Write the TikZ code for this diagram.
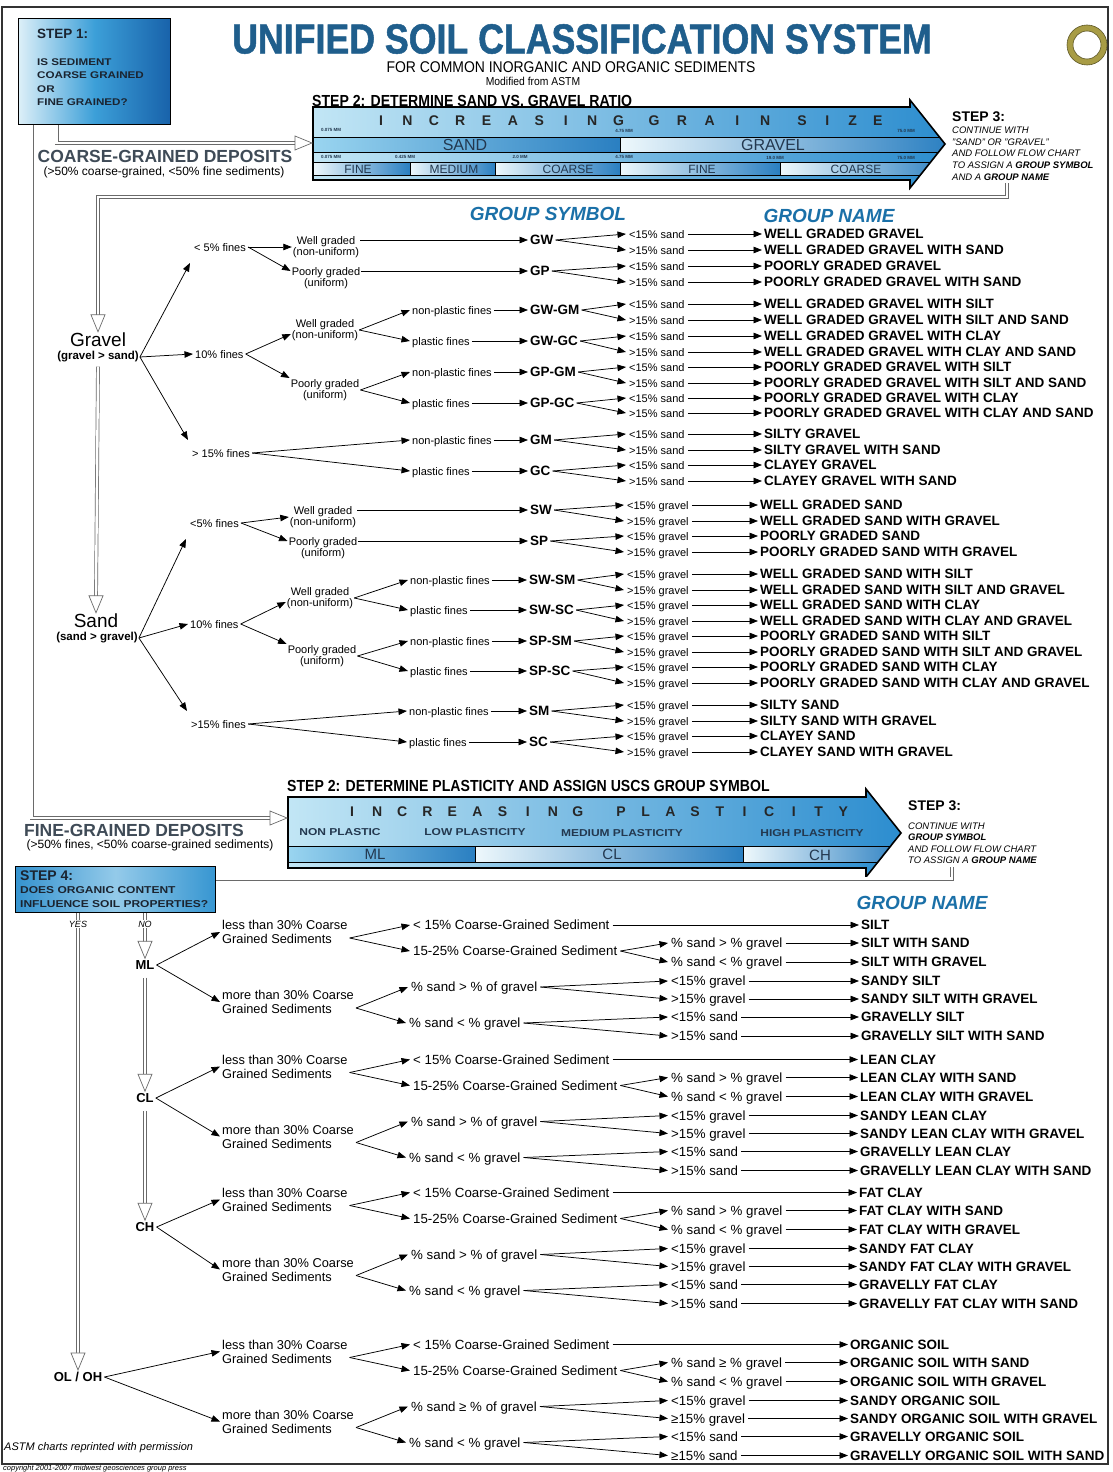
\documentclass[tikz,border=0pt]{standalone}
\usepackage{fontspec}
\setmainfont{Liberation Sans}
\newfontface\titlefont[FakeStretch=0.85,FakeBold=1.2]{Liberation Sans Bold}
\newfontface\condbold[FakeStretch=0.88]{Liberation Sans Bold}
\newfontface\condreg[FakeStretch=0.9]{Liberation Sans}
\newfontface\widebold[FakeStretch=1.2]{Liberation Sans Bold}
\newfontface\bolditalic{Liberation Sans Bold Italic}
\usetikzlibrary{arrows.meta,calc}
\definecolor{titleblue}{HTML}{1F5E8C}
\definecolor{hdrblue}{HTML}{1A70A8}
\definecolor{depcol}{HTML}{3F4B57}
\definecolor{barL}{HTML}{C2E6F5}
\definecolor{barR}{HTML}{2C8DCF}
\definecolor{cellLt}{HTML}{EEF8FC}
\definecolor{cellMid}{HTML}{9AD5F0}
\definecolor{cellDk}{HTML}{2A7FC1}
\definecolor{boxdark}{HTML}{1862AA}
\definecolor{boxmid}{HTML}{3C9FD8}
\definecolor{boxlight}{HTML}{DCEFF8}
\definecolor{ringcol}{HTML}{A89C45}
\definecolor{dblcol}{HTML}{6A6A6A}
\definecolor{celltext}{HTML}{23384F}
\definecolor{boxtext}{HTML}{1B2430}
\tikzset{
  arr/.style={-{Triangle[length=8.5pt,width=6.5pt]}, line width=0.75pt},
  dbl/.style={draw=dblcol, line width=0.7pt, double=white, double distance=2.4pt},
  harr/.style={draw=dblcol, line width=0.7pt, fill=white, line join=miter},
  cl/.style={anchor=west, font=\fontsize{11}{12}\selectfont, inner sep=2pt, text height=8pt, text depth=0pt},
  cl2/.style={align=center, font=\fontsize{11}{11.5}\selectfont, inner sep=1pt},
  sub/.style={anchor=west, font=\fontsize{11}{12}\selectfont, inner sep=3pt, text height=8pt, text depth=0pt},
  sym/.style={anchor=west, font=\bfseries\fontsize{13.5}{14}\selectfont, inner sep=2pt, text height=9.7pt, text depth=0pt},
  gname/.style={anchor=west, font=\bfseries\fontsize{13.5}{14}\selectfont, inner sep=2pt, text height=9.7pt, text depth=0pt},
  fl/.style={anchor=west, font=\fontsize{13.3}{14}\selectfont, inner sep=3pt, text height=9.5pt, text depth=0pt},
  fl2/.style={anchor=west, align=left, font=\fontsize{12.8}{14}\selectfont, inner sep=2pt},
  fsym/.style={font=\bfseries\fontsize{13}{14}\selectfont, inner sep=2pt},
  barlet/.style={font=\bfseries\fontsize{14}{15}\selectfont, text=black!85, inner sep=0pt},
  mm/.style={font=\bfseries\fontsize{4.5}{5}\selectfont, text=celltext, inner sep=0pt},
  celllab/.style={font=\fontsize{14}{15}\selectfont, text=celltext, inner sep=0pt},
  plab/.style={font=\widebold\fontsize{10}{11}\selectfont, text=celltext, inner sep=0pt},
  hdr/.style={font=\bolditalic\fontsize{19}{20}\selectfont, text=hdrblue, inner sep=0pt},
  dep/.style={font=\bfseries\fontsize{17.5}{19}\selectfont, text=depcol, inner sep=0pt},
  depsub/.style={font=\fontsize{12}{13}\selectfont, inner sep=0pt},
}
\newcommand\hdown[1]{\draw[harr] (#1) -- ++(-7,-17) -- ++(14,0) -- cycle;}
\newcommand\hright[1]{\draw[harr] (#1) -- ++(-17,-7) -- ++(0,14) -- cycle;}
\newcommand\cleaf[7]{%
  \node[sub] (#2s) at (#3,#5) {#6};
  \node[gname] (#2n) at (#4,#5) {#7};
  \draw[arr] (#1) -- (#2s.west);
  \draw[arr] (#2s.east) -- (#2n.west);}
\newcommand\fleaf[7]{%
  \node[fl] (#2s) at (#3,#5) {#6};
  \node[gname] (#2n) at (#4,#5) {#7};
  \draw[arr] (#1) -- (#2s.west);
  \draw[arr] (#2s.east) -- (#2n.west);}
\newcommand\fineblock[7]{%
  \begin{scope}[yshift=-#2pt]
    \node[fl2] (#1A) at (220,932) {less than 30\% Coarse\\Grained Sediments};
    \node[fl2] (#1B) at (220,1002) {more than 30\% Coarse\\Grained Sediments};
    \node[fl] (#1A1) at (410,925) {< 15\% Coarse-Grained Sediment};
    \node[fl] (#1A2) at (410,951) {15-25\% Coarse-Grained Sediment};
    \node[fl] (#1B1) at (408,987) {\% sand #5 \% of gravel};
    \node[fl] (#1B2) at (406,1023) {\% sand < \% gravel};
    \node[gname] (#1N1) at (#4,925) {#7};
    \fleaf{#1A2.east}{#1L2}{668}{#4}{943}{\% sand #5 \% gravel}{#7 WITH SAND}
    \fleaf{#1A2.east}{#1L3}{668}{#4}{962}{\% sand < \% gravel}{#7 WITH GRAVEL}
    \fleaf{#1B1.east}{#1L4}{668}{#4}{981}{<15\% gravel}{SANDY #7}
    \fleaf{#1B1.east}{#1L5}{668}{#4}{999}{#615\% gravel}{SANDY #7 WITH GRAVEL}
    \fleaf{#1B2.east}{#1L6}{668}{#4}{1017}{<15\% sand}{GRAVELLY #7}
    \fleaf{#1B2.east}{#1L7}{668}{#4}{1036}{#615\% sand}{GRAVELLY #7 WITH SAND}
  \end{scope}
  \draw[arr] (#3.east) -- (#1A.west);
  \draw[arr] (#3.east) -- (#1B.west);
  \draw[arr] ($(#1A.east)+(0,6)$) -- (#1A1.west);
  \draw[arr] ($(#1A.east)+(0,6)$) -- (#1A2.west);
  \draw[arr] (#1A1.east) -- (#1N1.west);
  \draw[arr] ($(#1B.east)+(0,6)$) -- (#1B1.west);
  \draw[arr] ($(#1B.east)+(0,6)$) -- (#1B2.west);
}
\begin{document}
\begin{tikzpicture}[x=1pt,y=-1pt]
\useasboundingbox (0,0) rectangle (1112,1472);
\fill[white] (0,0) rectangle (1112,1472);
% frame and ring
\draw[line width=1.3pt, black!80] (2,7) rectangle (1108,1464);
\draw[ringcol, line width=6pt] (1087,45) circle[radius=17pt];
\draw[black!45!ringcol, line width=0.6pt] (1087,45) circle[radius=20pt] (1087,45) circle[radius=14pt];

% ---------------- header ----------------
\node[draw=black, line width=1.3pt, anchor=north west, minimum width=152pt, minimum height=106pt, inner sep=0pt,
      left color=boxlight, right color=boxdark, middle color=boxmid] (step1) at (18,18) {};
\node[anchor=west, font=\bfseries\fontsize{13.5}{15}\selectfont, inner sep=0pt, text=boxtext] (s1h) at (37,34) {STEP 1:};
\node[anchor=north west, align=left, font=\widebold\fontsize{9.7}{13.3}\selectfont, inner sep=0pt, text=boxtext] (s1t) at (37,58.5)
  {IS SEDIMENT\\COARSE GRAINED\\OR\\FINE GRAINED?};
\node[font=\titlefont\fontsize{42}{44}\selectfont, text=titleblue, inner sep=0pt] (title) at (582,39) {UNIFIED SOIL CLASSIFICATION SYSTEM};
\node[font=\condreg\fontsize{15.5}{17}\selectfont, inner sep=0pt] (subt1) at (571,67) {FOR COMMON INORGANIC AND ORGANIC SEDIMENTS};
\node[font=\condreg\fontsize{11.5}{13}\selectfont, inner sep=0pt] (subt2) at (533,81) {Modified from ASTM};

% ---------------- grain size bar ----------------
\node[anchor=west, font=\condbold\fontsize{16}{18}\selectfont, inner sep=0pt] (s2a) at (312,101) {STEP 2: DETERMINE SAND VS. GRAVEL RATIO};
\shade[left color=barL, right color=barR] (313,107) -- (910,107) -- (910,100) -- (945,144) -- (910,188) -- (910,180) -- (313,180) -- cycle;
\begin{scope}
  \clip (313,107) -- (910,107) -- (910,100) -- (945,144) -- (910,188) -- (910,180) -- (313,180) -- cycle;
  \shade[left color=cellMid, right color=cellDk] (313,137) rectangle (620,152);
  \shade[left color=cellLt, right color=cellDk] (620,137) rectangle (950,152);
  \shade[left color=cellLt, right color=cellDk] (313,162) rectangle (410,175);
  \shade[left color=cellLt, right color=cellDk] (410,162) rectangle (495,175);
  \shade[left color=cellLt, right color=cellDk] (495,162) rectangle (620,175);
  \shade[left color=cellLt, right color=cellDk] (620,162) rectangle (780,175);
  \shade[left color=cellLt, right color=cellDk] (780,162) rectangle (950,175);
  \draw[line width=1pt] (313,137) -- (950,137) (313,152) -- (950,152) (313,162) -- (950,162) (313,175) -- (950,175);
  \draw[line width=1pt] (620,137) -- (620,152) (410,162) -- (410,175) (495,162) -- (495,175) (620,162) -- (620,175) (780,162) -- (780,175);
\end{scope}
\draw[line width=1.6pt, line join=miter] (313,107) -- (910,107) -- (910,100) -- (945,144) -- (910,188) -- (910,180) -- (313,180) -- cycle;
\foreach \c [count=\i from 0] in {I,N,C,R,E,A,S,I,N,G}{\node[barlet] (gla\i) at ({381+26.4*\i},121) {\c};}
\foreach \c [count=\i from 0] in {G,R,A,I,N}{\node[barlet] (glb\i) at ({654+27.8*\i},121) {\c};}
\foreach \c [count=\i from 0] in {S,I,Z,E}{\node[barlet] (glc\i) at ({802+25.3*\i},121) {\c};}
\node[mm] (mm1) at (331,130) {0.075 MM};
\node[mm] (mm2) at (624,131) {4.75 MM};
\node[mm] (mm3) at (906,131) {75.0 MM};
\node[mm] (mm4) at (331,157) {0.075 MM};
\node[mm] (mm5) at (405,157) {0.425 MM};
\node[mm] (mm6) at (520,157) {2.0 MM};
\node[mm] (mm7) at (624,157) {4.75 MM};
\node[mm] (mm8) at (775,158) {19.0 MM};
\node[mm] (mm9) at (906,158) {75.0 MM};
\node[celllab, font=\fontsize{16}{17}\selectfont] (sandlab) at (465,144.5) {SAND};
\node[celllab, font=\fontsize{16}{17}\selectfont] (gravlab) at (773,145) {GRAVEL};
\node[celllab, font=\fontsize{12}{13}\selectfont] (cf1) at (358,169) {FINE};
\node[celllab, font=\fontsize{12}{13}\selectfont] (cf2) at (454,169) {MEDIUM};
\node[celllab, font=\fontsize{12}{13}\selectfont] (cf3) at (568,169) {COARSE};
\node[celllab, font=\fontsize{12}{13}\selectfont] (cf4) at (702,169) {FINE};
\node[celllab, font=\fontsize{12}{13}\selectfont] (cf5) at (856,169) {COARSE};
\coordinate (gbin) at (312,143);

\node[anchor=west, font=\bfseries\fontsize{14}{16}\selectfont, inner sep=0pt] (s3a) at (952,117) {STEP 3:};
\node[anchor=north west, align=left, font=\itshape\fontsize{9.5}{11.8}\selectfont, inner sep=0pt] (s3at) at (952,126.5)
  {CONTINUE WITH\\"SAND" OR "GRAVEL"\\AND FOLLOW FLOW CHART\\TO ASSIGN A {\bfseries GROUP SYMBOL}\\AND A {\bfseries GROUP NAME}};
\coordinate (st3c) at (1007,183);

\node[dep] (cgd) at (165,156) {COARSE-GRAINED DEPOSITS};
\node[depsub] (cgds) at (164,172) {(>50\% coarse-grained, <50\% fine sediments)};

% step 1 connectors
\draw[dbl] ([xshift=-38pt]step1.south) |- ($(gbin)+(-17,0)$);
\hright{gbin}

% ---------------- coarse chart ----------------
\node[hdr] (hgs) at (548,214) {GROUP SYMBOL};
\node[hdr] (hgn) at (829,216) {GROUP NAME};

\node[font=\fontsize{19}{20}\selectfont, inner sep=1pt] (gravel) at (98,340) {Gravel};
\node[font=\bfseries\fontsize{11.5}{13}\selectfont, inner sep=1pt] (gravelsub) at (98,357) {(gravel > sand)};
\draw[dbl] (st3c) -- ++(0,14) -| ($(gravel.north)+(0,-16)$);
\hdown{gravel.north}

\node[cl] (g5) at (192,247) {< 5\% fines};
\node[cl] (g10) at (193,354) {10\% fines};
\node[cl] (g15) at (190,453) {> 15\% fines};
\draw[arr] (gravelsub.east) -- ($(g5.west)+(-2,16)$);
\draw[arr] (gravelsub.east) -- (g10.west);
\draw[arr] (gravelsub.east) -- ($(g15.west)+(-2,-13)$);

\node[cl2] (g5w) at (326,247) {Well graded\\(non-uniform)};
\node[cl2] (g5p) at (326,278) {Poorly graded\\(uniform)};
\draw[arr] (g5.east) -- (g5w.west);
\draw[arr] (g5.east) -- ($(g5p.west)+(0,-7)$);
\node[sym] (GW) at (528,240) {GW};
\node[sym] (GP) at (528,271) {GP};
\draw[arr] ($(g5w.east)+(0,-7)$) -- (GW.west);
\draw[arr] ($(g5p.east)+(0,-7)$) -- (GP.west);

\node[cl2] (g10w) at (325,330) {Well graded\\(non-uniform)};
\node[cl2] (g10p) at (325,390) {Poorly graded\\(uniform)};
\draw[arr] (g10.east) -- ($(g10w.west)+(0,4)$);
\draw[arr] (g10.east) -- ($(g10p.west)+(0,-12)$);
\node[cl] (g10wn) at (410,310) {non-plastic fines};
\node[cl] (g10wp) at (410,341) {plastic fines};
\node[cl] (g10pn) at (410,372) {non-plastic fines};
\node[cl] (g10pp) at (410,403) {plastic fines};
\draw[arr] (g10w.east) -- (g10wn.west);
\draw[arr] (g10w.east) -- (g10wp.west);
\draw[arr] (g10p.east) -- (g10pn.west);
\draw[arr] (g10p.east) -- (g10pp.west);
\node[sym] (GWGM) at (528,310) {GW-GM};
\node[sym] (GWGC) at (528,341) {GW-GC};
\node[sym] (GPGM) at (528,372) {GP-GM};
\node[sym] (GPGC) at (528,403) {GP-GC};
\draw[arr] (g10wn.east) -- (GWGM.west);
\draw[arr] (g10wp.east) -- (GWGC.west);
\draw[arr] (g10pn.east) -- (GPGM.west);
\draw[arr] (g10pp.east) -- (GPGC.west);

\node[cl] (g15n) at (410,440) {non-plastic fines};
\node[cl] (g15p) at (410,471) {plastic fines};
\draw[arr] (g15.east) -- (g15n.west);
\draw[arr] (g15.east) -- (g15p.west);
\node[sym] (GM) at (528,440) {GM};
\node[sym] (GC) at (528,471) {GC};
\draw[arr] (g15n.east) -- (GM.west);
\draw[arr] (g15p.east) -- (GC.west);

\cleaf{GW.east}{c1}{626}{762}{234}{<15\% sand}{WELL GRADED GRAVEL}
\cleaf{GW.east}{c2}{626}{762}{250}{>15\% sand}{WELL GRADED GRAVEL WITH SAND}
\cleaf{GP.east}{c3}{626}{762}{266}{<15\% sand}{POORLY GRADED GRAVEL}
\cleaf{GP.east}{c4}{626}{762}{282}{>15\% sand}{POORLY GRADED GRAVEL WITH SAND}
\cleaf{GWGM.east}{c5}{626}{762}{304}{<15\% sand}{WELL GRADED GRAVEL WITH SILT}
\cleaf{GWGM.east}{c6}{626}{762}{320}{>15\% sand}{WELL GRADED GRAVEL WITH SILT AND SAND}
\cleaf{GWGC.east}{c7}{626}{762}{336}{<15\% sand}{WELL GRADED GRAVEL WITH CLAY}
\cleaf{GWGC.east}{c8}{626}{762}{352}{>15\% sand}{WELL GRADED GRAVEL WITH CLAY AND SAND}
\cleaf{GPGM.east}{c9}{626}{762}{367}{<15\% sand}{POORLY GRADED GRAVEL WITH SILT}
\cleaf{GPGM.east}{c10}{626}{762}{383}{>15\% sand}{POORLY GRADED GRAVEL WITH SILT AND SAND}
\cleaf{GPGC.east}{c11}{626}{762}{398}{<15\% sand}{POORLY GRADED GRAVEL WITH CLAY}
\cleaf{GPGC.east}{c12}{626}{762}{413}{>15\% sand}{POORLY GRADED GRAVEL WITH CLAY AND SAND}
\cleaf{GM.east}{c13}{626}{762}{434}{<15\% sand}{SILTY GRAVEL}
\cleaf{GM.east}{c14}{626}{762}{450}{>15\% sand}{SILTY GRAVEL WITH SAND}
\cleaf{GC.east}{c15}{626}{762}{465}{<15\% sand}{CLAYEY GRAVEL}
\cleaf{GC.east}{c16}{626}{762}{481}{>15\% sand}{CLAYEY GRAVEL WITH SAND}

% sand
\node[font=\fontsize{19}{20}\selectfont, inner sep=1pt] (sand) at (96,621) {Sand};
\node[font=\bfseries\fontsize{11.5}{13}\selectfont, inner sep=1pt] (sandsub) at (97,638) {(sand > gravel)};
\draw[dbl] ($(gravelsub.south)+(0,3)$) -- ($(sand.north)+(0,-16)$);
\hdown{sand.north}

\node[cl] (s5) at (188,523) {<5\% fines};
\node[cl] (s10) at (188,624) {10\% fines};
\node[cl] (s15) at (189,724) {>15\% fines};
\draw[arr] (sandsub.east) -- ($(s5.west)+(-2,16)$);
\draw[arr] (sandsub.east) -- (s10.west);
\draw[arr] (sandsub.east) -- ($(s15.west)+(-2,-13)$);

\node[cl2] (s5w) at (323,517) {Well graded\\(non-uniform)};
\node[cl2] (s5p) at (323,548) {Poorly graded\\(uniform)};
\draw[arr] (s5.east) -- (s5w.west);
\draw[arr] (s5.east) -- ($(s5p.west)+(0,-7)$);
\node[sym] (SW) at (528,510) {SW};
\node[sym] (SP) at (528,541) {SP};
\draw[arr] ($(s5w.east)+(0,-7)$) -- (SW.west);
\draw[arr] ($(s5p.east)+(0,-7)$) -- (SP.west);

\node[cl2] (s10w) at (320,598) {Well graded\\(non-uniform)};
\node[cl2] (s10p) at (322,656) {Poorly graded\\(uniform)};
\draw[arr] (s10.east) -- ($(s10w.west)+(0,4)$);
\draw[arr] (s10.east) -- ($(s10p.west)+(0,-12)$);
\node[cl] (s10wn) at (408,580) {non-plastic fines};
\node[cl] (s10wp) at (408,610) {plastic fines};
\node[cl] (s10pn) at (408,641) {non-plastic fines};
\node[cl] (s10pp) at (408,671) {plastic fines};
\draw[arr] (s10w.east) -- (s10wn.west);
\draw[arr] (s10w.east) -- (s10wp.west);
\draw[arr] (s10p.east) -- (s10pn.west);
\draw[arr] (s10p.east) -- (s10pp.west);
\node[sym] (SWSM) at (527,580) {SW-SM};
\node[sym] (SWSC) at (527,610) {SW-SC};
\node[sym] (SPSM) at (527,641) {SP-SM};
\node[sym] (SPSC) at (527,671) {SP-SC};
\draw[arr] (s10wn.east) -- (SWSM.west);
\draw[arr] (s10wp.east) -- (SWSC.west);
\draw[arr] (s10pn.east) -- (SPSM.west);
\draw[arr] (s10pp.east) -- (SPSC.west);

\node[cl] (s15n) at (407,711) {non-plastic fines};
\node[cl] (s15p) at (407,742) {plastic fines};
\draw[arr] (s15.east) -- (s15n.west);
\draw[arr] (s15.east) -- (s15p.west);
\node[sym] (SM) at (527,711) {SM};
\node[sym] (SC) at (527,742) {SC};
\draw[arr] (s15n.east) -- (SM.west);
\draw[arr] (s15p.east) -- (SC.west);

\cleaf{SW.east}{d1}{624}{758}{505}{<15\% gravel}{WELL GRADED SAND}
\cleaf{SW.east}{d2}{624}{758}{521}{>15\% gravel}{WELL GRADED SAND WITH GRAVEL}
\cleaf{SP.east}{d3}{624}{758}{536}{<15\% gravel}{POORLY GRADED SAND}
\cleaf{SP.east}{d4}{624}{758}{552}{>15\% gravel}{POORLY GRADED SAND WITH GRAVEL}
\cleaf{SWSM.east}{d5}{624}{758}{574}{<15\% gravel}{WELL GRADED SAND WITH SILT}
\cleaf{SWSM.east}{d6}{624}{758}{590}{>15\% gravel}{WELL GRADED SAND WITH SILT AND GRAVEL}
\cleaf{SWSC.east}{d7}{624}{758}{605}{<15\% gravel}{WELL GRADED SAND WITH CLAY}
\cleaf{SWSC.east}{d8}{624}{758}{621}{>15\% gravel}{WELL GRADED SAND WITH CLAY AND GRAVEL}
\cleaf{SPSM.east}{d9}{624}{758}{636}{<15\% gravel}{POORLY GRADED SAND WITH SILT}
\cleaf{SPSM.east}{d10}{624}{758}{652}{>15\% gravel}{POORLY GRADED SAND WITH SILT AND GRAVEL}
\cleaf{SPSC.east}{d11}{624}{758}{667}{<15\% gravel}{POORLY GRADED SAND WITH CLAY}
\cleaf{SPSC.east}{d12}{624}{758}{683}{>15\% gravel}{POORLY GRADED SAND WITH CLAY AND GRAVEL}
\cleaf{SM.east}{d13}{624}{758}{705}{<15\% gravel}{SILTY SAND}
\cleaf{SM.east}{d14}{624}{758}{721}{>15\% gravel}{SILTY SAND WITH GRAVEL}
\cleaf{SC.east}{d15}{624}{758}{736}{<15\% gravel}{CLAYEY SAND}
\cleaf{SC.east}{d16}{624}{758}{752}{>15\% gravel}{CLAYEY SAND WITH GRAVEL}

% ---------------- plasticity bar ----------------
\node[anchor=west, font=\condbold\fontsize{16}{18}\selectfont, inner sep=0pt] (s2b) at (287,786) {STEP 2: DETERMINE PLASTICITY AND ASSIGN USCS GROUP SYMBOL};
\shade[left color=barL, right color=barR] (288,797) -- (866,797) -- (866,789) -- (901,833) -- (866,877) -- (866,868) -- (288,868) -- cycle;
\begin{scope}
  \clip (288,797) -- (866,797) -- (866,789) -- (901,833) -- (866,877) -- (866,868) -- (288,868) -- cycle;
  \shade[left color=cellMid, right color=cellDk] (288,846) rectangle (475,862);
  \shade[left color=cellLt, right color=cellDk] (475,846) rectangle (743,862);
  \shade[left color=cellLt, right color=cellDk] (743,846) rectangle (905,862);
  \draw[line width=1pt] (288,846) -- (905,846) (288,862) -- (905,862);
  \draw[line width=1pt] (475,846) -- (475,862) (743,846) -- (743,862);
\end{scope}
\draw[line width=1.6pt, line join=miter] (288,797) -- (866,797) -- (866,789) -- (901,833) -- (866,877) -- (866,868) -- (288,868) -- cycle;
\foreach \c [count=\i from 0] in {I,N,C,R,E,A,S,I,N,G}{\node[barlet] (pla\i) at ({352+25.1*\i},812) {\c};}
\foreach \c [count=\i from 0] in {P,L,A,S,T,I,C,I,T,Y}{\node[barlet] (plb\i) at ({621+24.7*\i},812) {\c};}
\node[plab] (pl1) at (340,832) {NON PLASTIC};
\node[plab] (pl2) at (475,832) {LOW PLASTICITY};
\node[plab] (pl3) at (622,833) {MEDIUM PLASTICITY};
\node[plab] (pl4) at (812,833) {HIGH PLASTICITY};
\node[celllab, font=\fontsize{15}{16}\selectfont] (mlab) at (375,854) {ML};
\node[celllab, font=\fontsize{15}{16}\selectfont] (clab) at (612,854) {CL};
\node[celllab, font=\fontsize{15}{16}\selectfont] (chab) at (820,855) {CH};
\coordinate (fbin) at (287,818);

\node[anchor=west, font=\bfseries\fontsize{14}{16}\selectfont, inner sep=0pt] (s3b) at (908,806) {STEP 3:};
\node[anchor=north west, align=left, font=\itshape\fontsize{9.5}{11.4}\selectfont, inner sep=0pt] (s3bt) at (908,822.5)
  {CONTINUE WITH\\{\bfseries GROUP SYMBOL}\\AND FOLLOW FLOW CHART\\TO ASSIGN A {\bfseries GROUP NAME}};
\coordinate (st3f) at (952,867);

\node[dep] (fgd) at (134,830) {FINE-GRAINED DEPOSITS};
\node[depsub] (fgds) at (150,845) {(>50\% fines, <50\% coarse-grained sediments)};
\draw[dbl] ([xshift=-63pt]step1.south) |- ($(fbin)+(-17,0)$);
\hright{fbin}

% ---------------- step 4 ----------------
\node[draw=black, line width=1.3pt, anchor=north west, minimum width=200pt, minimum height=46pt, inner sep=0pt,
      left color=boxmid!80!boxdark, right color=boxmid!85!boxdark, middle color=boxmid!55!white] (step4) at (15,866) {};
\node[anchor=west, font=\bfseries\fontsize{14}{16}\selectfont, inner sep=0pt, text=boxtext] (s4h) at (20,876) {STEP 4:};
\node[anchor=north west, align=left, font=\widebold\fontsize{10}{14}\selectfont, inner sep=0pt, text=boxtext] (s4t) at (20,886.5)
  {DOES ORGANIC CONTENT\\INFLUENCE SOIL PROPERTIES?};
\draw[dbl] (st3f) |- ([yshift=11pt]step4.east);

\node[hdr] (hgn2) at (922,903) {GROUP NAME};

\node[fsym] (ML) at (145,965) {ML};
\node[fsym] (CL) at (145,1098) {CL};
\node[fsym] (CH) at (145,1227) {CH};
\node[fsym] (OL) at (78,1377) {OL / OH};
\draw[dbl] (step4.south -| ML.north) -- ($(ML.north)+(0,-16)$);
\hdown{ML.north}
\draw[dbl] (step4.south -| OL.north) -- ($(OL.north)+(0,-16)$);
\hdown{OL.north}
\node[font=\itshape\fontsize{9}{10}\selectfont, fill=white, inner sep=1pt] (no) at (145,924) {NO};
\node[font=\itshape\fontsize{9}{10}\selectfont, fill=white, inner sep=1pt] (yes) at (78,924) {YES};
\draw[dbl] ($(ML.south)+(0,6)$) -- ($(CL.north)+(0,-16)$);
\hdown{CL.north}
\draw[dbl] ($(CL.south)+(0,6)$) -- ($(CH.north)+(0,-16)$);
\hdown{CH.north}

\fineblock{ml}{0}{ML}{859}{>}{>}{SILT}
\fineblock{cl}{134.5}{CL}{858}{>}{>}{LEAN CLAY}
\fineblock{ch}{267.5}{CH}{857}{>}{>}{FAT CLAY}
\fineblock{ol}{419.5}{OL}{848}{≥}{≥}{ORGANIC SOIL}

% ---------------- footer ----------------
\node[anchor=west, font=\itshape\fontsize{11}{12}\selectfont, inner sep=0pt] (astm) at (4,1448) {ASTM charts reprinted with permission};
\node[anchor=west, font=\itshape\fontsize{7.5}{8}\selectfont, inner sep=0pt] (copy) at (3,1468.3) {copyright 2001-2007 midwest geosciences group press};
\end{tikzpicture}
\end{document}
